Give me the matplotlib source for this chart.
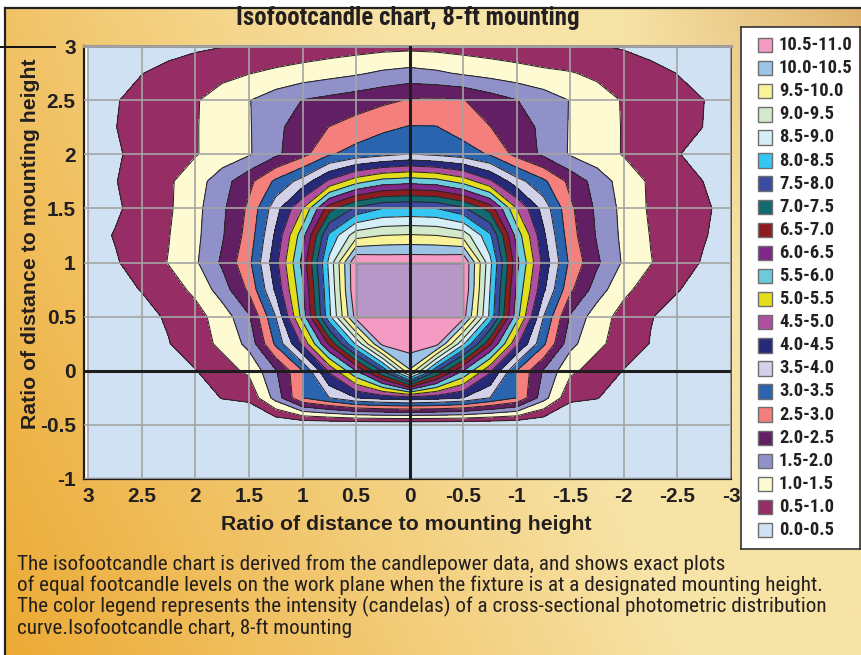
import os
import numpy as np
import matplotlib
matplotlib.use("Agg")
import matplotlib.pyplot as plt
from matplotlib.patches import Rectangle
from matplotlib import font_manager as fm
from matplotlib.font_manager import FontProperties

# ---------------------------------------------------------------
# Isofootcandle grid: ratio of distance to mounting height
# columns follow x_ratio (left to right on the chart), rows follow y_ratio (top to bottom)
# ---------------------------------------------------------------
x_ratio = [3.0, 2.75, 2.5, 2.25, 2.0, 1.75, 1.5, 1.25, 1.0, 0.75, 0.5, 0.25, 0.0,
           -0.25, -0.5, -0.75, -1.0, -1.25, -1.5, -1.75, -2.0, -2.25, -2.5, -2.75, -3.0]
y_ratio = [3.0, 2.75, 2.5, 2.25, 2.0, 1.75, 1.5, 1.25, 1.0, 0.75, 0.5, 0.25, 0.0,
           -0.25, -0.5, -0.75, -1.0]

footcandles = [
    [0.15, 0.20, 0.28, 0.35, 0.42, 0.48, 0.55, 0.60, 0.66, 0.72, 0.78, 0.83, 0.85, 0.83, 0.78, 0.72, 0.66, 0.60, 0.55, 0.52, 0.45, 0.36, 0.28, 0.20, 0.15],
    [0.25, 0.35, 0.49, 0.62, 0.75, 0.87, 0.98, 1.10, 1.21, 1.32, 1.43, 1.58, 1.67, 1.58, 1.43, 1.32, 1.21, 1.10, 1.03, 0.90, 0.77, 0.62, 0.49, 0.35, 0.25],
    [0.30, 0.47, 0.64, 0.81, 0.96, 1.21, 1.48, 1.76, 2.01, 2.14, 2.27, 2.40, 2.53, 2.55, 2.52, 2.25, 2.01, 1.76, 1.48, 1.21, 0.96, 0.81, 0.64, 0.50, 0.30],
    [0.35, 0.49, 0.65, 0.81, 0.97, 1.21, 1.46, 1.89, 2.23, 2.51, 2.69, 2.90, 3.03, 3.02, 2.75, 2.51, 2.23, 1.89, 1.46, 1.21, 0.97, 0.81, 0.65, 0.49, 0.35],
    [0.30, 0.45, 0.62, 0.80, 0.97, 1.20, 1.45, 1.90, 2.34, 2.95, 3.20, 3.36, 3.52, 3.40, 3.25, 2.95, 2.34, 1.90, 1.45, 1.20, 0.97, 0.80, 0.52, 0.35, 0.25],
    [0.30, 0.48, 0.71, 0.93, 1.27, 1.79, 2.36, 3.10, 3.70, 4.60, 5.30, 5.70, 5.80, 5.70, 5.30, 4.60, 3.70, 3.10, 2.36, 1.79, 1.27, 0.93, 0.71, 0.49, 0.30],
    [0.30, 0.42, 0.70, 0.93, 1.35, 1.90, 2.60, 3.80, 5.00, 6.80, 7.60, 8.00, 8.05, 8.00, 7.60, 6.80, 5.00, 3.80, 2.60, 1.90, 1.35, 0.93, 0.70, 0.56, 0.35],
    [0.30, 0.53, 0.70, 0.98, 1.38, 1.95, 2.70, 4.10, 5.80, 8.10, 9.30, 9.50, 9.55, 9.50, 9.30, 8.10, 5.80, 4.10, 2.70, 1.95, 1.38, 0.98, 0.70, 0.53, 0.30],
    [0.30, 0.45, 0.73, 1.02, 1.43, 2.08, 2.88, 4.33, 6.15, 8.65, 11.0, 10.9, 10.9, 10.9, 11.0, 8.65, 6.15, 4.33, 2.88, 2.08, 1.43, 1.02, 0.73, 0.45, 0.30],
    [0.20, 0.35, 0.52, 0.80, 1.10, 1.75, 2.60, 4.10, 5.90, 8.50, 11.0, 11.0, 11.0, 11.0, 11.0, 8.50, 5.90, 4.10, 2.60, 1.75, 1.10, 0.80, 0.52, 0.35, 0.20],
    [0.10, 0.20, 0.35, 0.56, 0.83, 1.22, 1.94, 3.50, 5.70, 8.38, 10.7, 11.0, 11.0, 11.0, 10.7, 8.38, 5.70, 3.50, 1.94, 1.22, 0.83, 0.52, 0.35, 0.20, 0.10],
    [0.05, 0.15, 0.30, 0.48, 0.80, 1.10, 1.65, 3.10, 4.60, 6.60, 8.60, 10.7, 10.8, 10.7, 8.60, 6.60, 4.60, 3.10, 1.65, 1.10, 0.80, 0.48, 0.30, 0.15, 0.05],
    [0.00, 0.05, 0.15, 0.30, 0.48, 0.80, 1.10, 1.95, 3.00, 4.60, 6.00, 7.60, 9.95, 7.60, 6.00, 4.60, 3.00, 1.95, 1.10, 0.80, 0.48, 0.30, 0.15, 0.05, 0.00],
    [0.00, 0.00, 0.00, 0.10, 0.25, 0.52, 0.60, 1.70, 3.00, 3.50, 4.00, 4.20, 4.30, 4.20, 4.00, 3.50, 3.00, 1.70, 0.60, 0.52, 0.25, 0.10, 0.00, 0.00, 0.00],
    [0.00] * 25,
    [0.00] * 25,
    [0.00] * 25,
]

band_edges = [0.0, 0.5, 1.0, 1.5, 2.0, 2.5, 3.0, 3.5, 4.0, 4.5, 5.0, 5.5,
              6.0, 6.5, 7.0, 7.5, 8.0, 8.5, 9.0, 9.5, 10.0, 10.5, 11.0]
band_labels = ["0.0-0.5", "0.5-1.0", "1.0-1.5", "1.5-2.0", "2.0-2.5", "2.5-3.0",
               "3.0-3.5", "3.5-4.0", "4.0-4.5", "4.5-5.0", "5.0-5.5", "5.5-6.0",
               "6.0-6.5", "6.5-7.0", "7.0-7.5", "7.5-8.0", "8.0-8.5", "8.5-9.0",
               "9.0-9.5", "9.5-10.0", "10.0-10.5", "10.5-11.0"]
band_colors = ["#CFE1F2", "#962D64", "#FEFBD2", "#9191CA", "#631F64", "#F47F7D",
               "#2A64AF", "#D2D1EA", "#27297A", "#B04EA0", "#E3DE1B", "#6CCBDA",
               "#80288A", "#8D1B20", "#126A6E", "#3A4BA0", "#36C6F4", "#D6EEF7",
               "#D3E9CB", "#F8F396", "#9DC3E7", "#F59AC3"]

# fixture footprint drawn over the centre of the plot (x0, x1, y0, y1)
fixture_extent = [0.5, -0.5, 0.5, 1.0]

x_tick_values = [3, 2.5, 2, 1.5, 1, 0.5, 0, -0.5, -1, -1.5, -2, -2.5, -3]
x_tick_labels = ["3", "2.5", "2", "1.5", "1", "0.5", "0", "-0.5", "-1", "-1.5", "-2", "-2.5", "-3"]
y_tick_values = [-1, -0.5, 0, 0.5, 1, 1.5, 2, 2.5, 3]
y_tick_labels = ["-1", "-0.5", "0", "0.5", "1", "1.5", "2", "2.5", "3"]

title_text = "Isofootcandle chart, 8-ft mounting"
axis_text = "Ratio of distance to mounting height"
caption_lines = [
    "The isofootcandle chart is derived from the candlepower data, and shows exact plots",
    "of equal footcandle levels on the work plane when the fixture is at a designated mounting height.",
    "The color legend represents the intensity (candelas) of a cross-sectional photometric distribution",
    "curve.Isofootcandle chart, 8-ft mounting",
]

# ---------------------------------------------------------------
W, H = 862, 655
INK = "#231F20"


def fx(px):
    return px / W


def fy(py):
    return 1 - py / H


def find_font(candidates):
    files = {os.path.basename(f.fname).lower(): f.fname for f in fm.fontManager.ttflist}
    for cand in candidates:
        for base, path in files.items():
            if base == cand:
                return path
    return None


bold_narrow_path = find_font(["liberationsansnarrow-bold.ttf", "robotocondensed-bold.ttf",
                              "notosans-condensedbold.ttf", "dejavusanscondensed-bold.ttf",
                              "opensans-condensedbold.ttf", "opensans_condensed-bold.ttf"])
reg_narrow_path = find_font(["liberationsansnarrow-regular.ttf", "robotocondensed-regular.ttf",
                             "notosans-condensed.ttf", "dejavusanscondensed.ttf",
                             "opensans-condensedregular.ttf", "opensans_condensed-regular.ttf"])


def narrow_font(bold):
    path = bold_narrow_path if bold else reg_narrow_path
    if path:
        return FontProperties(fname=path)
    return FontProperties(family=["Liberation Sans", "DejaVu Sans"],
                          weight="bold" if bold else "normal")


def sans_bold():
    return FontProperties(family=["Liberation Sans", "DejaVu Sans"], weight="bold")


fig = plt.figure(figsize=(W / 100, H / 100), dpi=100)
fig.patch.set_facecolor("white")

# warm gradient backdrop panel
bg = fig.add_axes([fx(5), 0, 1 - fx(5), fy(8)], zorder=-10)
u = np.linspace(0, 1, 300)[None, :]
w = np.linspace(0, 1, 230)[:, None]
light = np.array([247, 227, 166]) / 255
orange = np.array([236, 170, 52]) / 255
tan = np.array([222, 178, 108]) / 255
o = np.clip(1.0 - (u * 1.25 + (1 - w) * 0.45), 0, 1)[..., None]
t = (np.clip((u - 0.72) / 0.28, 0, 1) * np.clip((0.4 - w) / 0.4, 0, 1))[..., None]
img = light * (1 - o) + orange * o
img = img * (1 - t) + tan * t
bg.imshow(img, aspect="auto", extent=[0, 1, 0, 1], origin="upper")
bg.set_xlim(0, 1)
bg.set_ylim(0, 1)
bg.axis("off")
fig.add_artist(plt.Line2D([fx(5), 1], [fy(8), fy(8)], color="#222222", lw=1.6))
fig.add_artist(plt.Line2D([fx(5), fx(5)], [0, fy(8)], color="#222222", lw=1.6))
fig.add_artist(plt.Line2D([0, fx(55)], [fy(47), fy(47)], color="#111111", lw=1.4))

# main contour plot
ax = fig.add_axes([fx(84), fy(479), fx(731 - 84), (479 - 46) / H])
X, Y = np.meshgrid(np.array(x_ratio), np.array(y_ratio))
Z = np.array(footcandles)
ax.contourf(X, Y, Z, levels=band_edges, colors=band_colors, zorder=1)
ax.contour(X, Y, Z, levels=band_edges[1:-1], colors="#262626", linewidths=0.75, zorder=2)

fx0, fx1, fy0, fy1 = fixture_extent
ax.add_patch(Rectangle((fx1, fy0), fx0 - fx1, fy1 - fy0, facecolor="#B797C7",
                       edgecolor="#4a4a4a", lw=1.0, zorder=2.2))

ax.set_xlim(3.04, -3.0)
ax.set_ylim(-1, 3)
ax.set_xticks(x_tick_values)
ax.set_xticklabels(x_tick_labels)
ax.set_yticks(y_tick_values)
ax.set_yticklabels(y_tick_labels)
ax.tick_params(length=0, pad=6)
for lab in ax.get_xticklabels() + ax.get_yticklabels():
    lab.set_fontproperties(sans_bold())
    lab.set_fontsize(15)
    lab.set_color(INK)
ax.grid(True, color="#A4A4A4", lw=1.2)
ax.set_axisbelow(False)
ax.axhline(0, color="#1e1e1e", lw=2.2, zorder=3)
ax.axvline(0, color="#1e1e1e", lw=2.2, zorder=3)
for side in ("left", "bottom"):
    ax.spines[side].set_color("#1e1e1e")
    ax.spines[side].set_linewidth(1.6)
ax.spines["top"].set_color("#9c9c9c")
ax.spines["top"].set_linewidth(2.2)
ax.spines["right"].set_color("#555555")
ax.spines["right"].set_linewidth(1.4)

# titles
title = fig.text(fx(408), fy(18), title_text, ha="center", va="center",
                 fontproperties=narrow_font(True), color=INK)
xlab = fig.text(fx(406), fy(524), axis_text, ha="center", va="center",
                fontproperties=sans_bold(), color=INK)
ylab = fig.text(fx(31), fy(244), axis_text, ha="center", va="center", rotation=90,
                fontproperties=sans_bold(), color=INK)

# legend panel
lg = fig.add_axes([fx(741), fy(549), fx(860 - 741), (549 - 27) / H], zorder=5)
lg.set_xlim(741, 860)
lg.set_ylim(549, 27)
lg.set_facecolor("white")
lg.set_xticks([])
lg.set_yticks([])
for sp in lg.spines.values():
    sp.set_color("#333333")
    sp.set_linewidth(1.2)
legend_texts = []
for i, (lab, col) in enumerate(zip(band_labels[::-1], band_colors[::-1])):
    yc = 45 + i * 23.1
    lg.add_patch(Rectangle((758, yc - 7.2), 14.4, 14.4, facecolor=col,
                           edgecolor="#6e6e6e", lw=1.0))
    legend_texts.append(lg.text(779, yc, lab, ha="left", va="center",
                                fontproperties=narrow_font(True), color=INK))

# caption
caption_texts = []
for i, line in enumerate(caption_lines):
    caption_texts.append(fig.text(fx(17), fy(564 + i * 21.4), line, ha="left", va="center",
                                  fontproperties=narrow_font(False), color=INK))

# size the texts to their printed widths
fig.canvas.draw()
renderer = fig.canvas.get_renderer()


def fit(texts, ref, target, size_cap):
    ref.set_fontsize(12)
    bb = ref.get_window_extent(renderer=renderer)
    span = bb.height if ref.get_rotation() else bb.width
    size = min(12 * target / span, size_cap)
    for tx in texts:
        tx.set_fontsize(size)


fit([title], title, 343, 18)
fit([xlab], xlab, 368, 16)
fit([ylab], ylab, 368, 16)
fit(legend_texts, legend_texts[0], 73, 14)
fit(caption_texts, caption_texts[1], 809, 15.2)

fig.savefig("out.png", dpi=100)
